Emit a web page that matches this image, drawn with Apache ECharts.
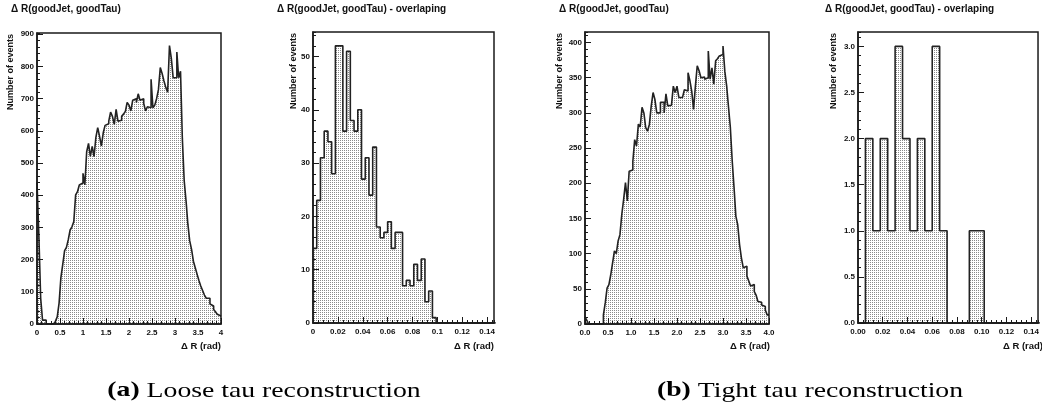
<!DOCTYPE html>
<html><head><meta charset="utf-8">
<script src="https://cdn.jsdelivr.net/npm/echarts@6/dist/echarts.min.js"></script>
<style>html,body{margin:0;padding:0;background:#fff}#c{width:1042px;height:409px}</style>
</head><body><div id="c"></div>
<script>
// ---------------- DATA ----------------
// (a) Loose: all events, 100 bins of 0.04 from 0 to 4
const looseAll = [440,278,80,12,12,0,0,0,0,3,
 8,22,65,145,185,228,238,262,292,302,
 318,401,411,432,438,468,432,535,561,521,
 552,520,580,610,583,553,594,617,622,630,
 658,645,620,667,630,633,645,652,660,688,
 680,662,695,700,688,715,695,700,685,662,
 675,672,760,672,680,700,728,797,778,755,
 735,720,865,825,765,765,845,765,785,575,
 445,383,310,258,232,195,175,155,135,118,
 104,90,80,80,62,56,45,38,30,25];
// (a) Loose: overlapping, bins of 0.003
const looseOverlap = [14,23,31,36,34,28,52,52,36,51,
 38,36,40,27,31,24,33,18,16,17,
 19,14,17,17,7,8,7,11,8,12,
 4,6,1,0,0,0,0,0,0,0,
 0,0,0,0,0,0,0,0,0];
// (b) Tight: all events, 100 bins of 0.04
const tightAll = [10,5,0,0,0,0,0,0,0,0,
 13,30,51,56,70,87,104,100,118,127,
 156,177,201,175,217,219,231,262,253,284,
 280,308,300,279,274,284,310,329,319,300,
 300,315,315,300,327,310,311,312,338,329,
 338,322,322,322,333,331,357,346,331,305,
 338,367,360,350,351,348,350,388,348,364,
 341,374,377,381,383,395,359,338,308,279,
 232,194,153,141,113,94,80,82,68,61,
 54,56,46,41,32,31,27,25,20,13];
// (b) Tight: overlapping, bins of 0.006
const tightOverlap = [0,2,1,2,1,3,2,1,2,1,3,1,0,0,0,1,1,0,0,0,0,0,0,0,0];

const binWidths = [0.04, 0.003, 0.04, 0.006];
const panelTitles = ['\u0394 R(goodJet, goodTau)', '\u0394 R(goodJet, goodTau) - overlaping',
                     '\u0394 R(goodJet, goodTau)', '\u0394 R(goodJet, goodTau) - overlaping'];
const yTitle = 'Number of events';
const xTitle = '\u0394 R (rad)';
const captionTags = ['(a)', '(b)'];
const captionTexts = ['Loose tau reconstruction', 'Tight tau reconstruction'];

// ---------------- LAYOUT / SCALES ----------------
const series = [looseAll, looseOverlap, tightAll, tightOverlap];
const grids = [
  {left:37, top:33, width:184, height:291},
  {left:313, top:32, width:181, height:291},
  {left:585, top:32, width:184, height:292},
  {left:858, top:32, width:181, height:291}
];
const xScale = [
  {max:4, major:0.5, minor:0.1, fmt:v=>String(+v.toFixed(2)), showMax:true},
  {max:0.1455, major:0.02, minor:0.004, fmt:v=>String(+v.toFixed(3)), showMax:false},
  {max:4, major:0.5, minor:0.1, fmt:v=>v.toFixed(1), showMax:true},
  {max:0.1455, major:0.02, minor:0.004, fmt:v=>v.toFixed(2), showMax:false}
];
const yScale = [
  {max:904, major:100, minor:20, fmt:v=>String(Math.round(v))},
  {max:54.6, major:10, minor:2, fmt:v=>String(Math.round(v))},
  {max:415, major:50, minor:10, fmt:v=>String(Math.round(v))},
  {max:3.156, major:0.5, minor:0.1, fmt:v=>v.toFixed(1)}
];
const titleX = [11, 277, 559, 825];
const yTitleX = [11, 294, 560, 834];
const xTitleRight = [221, 494, 770, 1043];
const captionX = [264, 810];

function makePattern(){
  const c = document.createElement('canvas');
  c.width = 2; c.height = 2;
  const g = c.getContext('2d');
  g.fillStyle = '#ffffff'; g.fillRect(0,0,2,2);
  g.fillStyle = '#8a8a8a'; g.fillRect(0,0,1,1);
  return c;
}
const pattern = makePattern();

function stepData(vals, w){
  const d = vals.map((v,i)=>[i*w, v]);
  d.push([vals.length*w, vals[vals.length-1]]);
  return d;
}

const INK = '#1a1a1a';
const sans = '"Liberation Sans", Arial, Helvetica, sans-serif';
const xAxes = [], yAxes = [], ser = [], graphics = [];
grids.forEach((g,k)=>{
  const xs = xScale[k], ys = yScale[k];
  xAxes.push({gridIndex:k, type:'value', position:'bottom', min:0, max:xs.max, interval:xs.major, z:5,
    axisLine:{show:true, onZero:false, lineStyle:{color:INK, width:1.5}},
    axisTick:{show:true, inside:true, length:6, lineStyle:{color:INK, width:1}},
    axisLabel:{show:true, margin:5, fontSize:8, fontWeight:'bold', fontFamily:sans, color:'#111', formatter:xs.fmt, showMaxLabel:xs.showMax, showMinLabel:true, hideOverlap:false},
    splitLine:{show:false}});
  xAxes.push({gridIndex:k, type:'value', position:'bottom', min:0, max:xs.max, interval:xs.minor, z:5,
    axisLine:{show:false, onZero:false}, axisLabel:{show:false},
    axisTick:{show:true, inside:true, length:3, lineStyle:{color:INK, width:1}}, splitLine:{show:false}});
  yAxes.push({gridIndex:k, type:'value', position:'left', min:0, max:ys.max, interval:ys.major, z:5,
    axisLine:{show:true, onZero:false, lineStyle:{color:INK, width:1.5}},
    axisTick:{show:true, inside:true, length:6, lineStyle:{color:INK, width:1}},
    axisLabel:{show:true, margin:3, fontSize:8, fontWeight:'bold', fontFamily:sans, color:'#111', formatter:ys.fmt, showMaxLabel:false, showMinLabel:true, hideOverlap:false},
    splitLine:{show:false}});
  yAxes.push({gridIndex:k, type:'value', position:'left', min:0, max:ys.max, interval:ys.minor, z:5,
    axisLine:{show:false, onZero:false}, axisLabel:{show:false},
    axisTick:{show:true, inside:true, length:3, lineStyle:{color:INK, width:1}}, splitLine:{show:false}});
  ser.push({type:'line', xAxisIndex:2*k, yAxisIndex:2*k, data:stepData(series[k], binWidths[k]),
    step:'end', symbol:'none', silent:true, z:2,
    lineStyle:{color:'#222222', width:1.6},
    areaStyle:{color:{image:pattern, repeat:'repeat'}, opacity:1}});
  graphics.push({type:'text', x:titleX[k], y:9, z:10,
    style:{text:panelTitles[k], fontSize:10, fontWeight:'bold', fontFamily:sans, fill:'#111', align:'left', verticalAlign:'middle'}});
  graphics.push({type:'text', x:yTitleX[k], y:g.top+1, rotation:Math.PI/2, z:10,
    style:{text:yTitle, fontSize:9, fontWeight:'bold', fontFamily:sans, fill:'#111', align:'right', verticalAlign:'middle'}});
  graphics.push({type:'text', x:xTitleRight[k], y:346, z:10,
    style:{text:xTitle, fontSize:9.5, fontWeight:'bold', fontFamily:sans, fill:'#111', align:'right', verticalAlign:'middle'}});
});
captionTags.forEach((t,i)=>{
  graphics.push({type:'text', x:captionX[i], y:391, scaleX:1.32, z:10,
    style:{text:'{b|'+t+'} '+captionTexts[i], fontSize:21, fontFamily:'"Liberation Serif", "Times New Roman", serif', fill:'#000',
      align:'center', verticalAlign:'middle',
      rich:{b:{fontSize:21, fontWeight:'bold', fontFamily:'"Liberation Serif", "Times New Roman", serif', fill:'#000'}}}});
});

const chart = echarts.init(document.getElementById('c'), null, {renderer:'canvas'});
chart.setOption({
  animation:false,
  backgroundColor:'#ffffff',
  grid: grids.map(g=>Object.assign({show:true, borderColor:INK, borderWidth:1.5, backgroundColor:'transparent', z:5}, g)),
  xAxis: xAxes,
  yAxis: yAxes,
  series: ser,
  graphic: graphics
});
</script>
</body></html>
